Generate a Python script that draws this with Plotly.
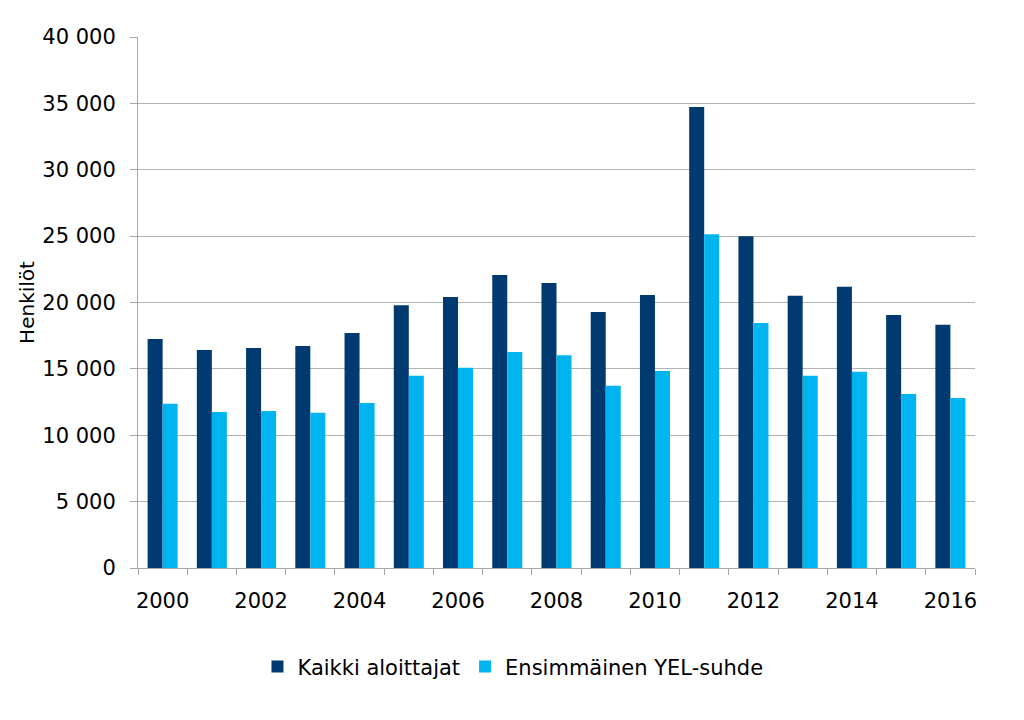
import plotly.graph_objects as go

years = list(range(2000, 2017))
kaikki = [17250, 16420, 16570, 16720, 17700, 19800, 20420, 22070, 21470, 19280,
          20560, 34730, 25000, 20500, 21180, 19060, 18320]
ensimmainen = [12380, 11760, 11830, 11700, 12430, 14480, 15080, 16280, 16030, 13720,
               14840, 25150, 18460, 14480, 14780, 13100, 12800]
series_names = ["Kaikki aloittajat", "Ensimmäinen YEL-suhde"]
y_ticks = list(range(0, 40001, 5000))
x_labels = list(range(2000, 2017, 2))

font = dict(family="DejaVu Sans, Verdana, sans-serif", size=21, color="#000000")

fig = go.Figure()
fig.add_trace(go.Bar(x=years, y=kaikki, name=series_names[0], marker_color="#003A70",
                     marker_line_width=0))
fig.add_trace(go.Bar(x=years, y=ensimmainen, name=series_names[1], marker_color="#00B4F0",
                     marker_line_width=0))

fig.update_layout(
    width=1024, height=720,
    margin=dict(l=138, r=49, t=37, b=152),
    paper_bgcolor="white", plot_bgcolor="white",
    font=font,
    barmode="group", bargap=0.39, bargroupgap=0,
    separators=". ",
    legend=dict(orientation="h", x=0.448, xanchor="center", y=-0.186, yanchor="middle",
                font=dict(size=21), itemwidth=30, tracegroupgap=0),
    xaxis=dict(
        range=[1999.5, 2016.5], tickmode="array", tickvals=x_labels,
        ticktext=[str(v) for v in x_labels], ticks="", showgrid=False,
        showline=True, linecolor="#a6a6a6", linewidth=1,
        tickfont=dict(size=21), ticklabelstandoff=14,
        minor=dict(tickmode="array", tickvals=[y - 0.5 for y in years] + [2016.5],
                   ticks="outside", ticklen=6, tickcolor="#a6a6a6", showgrid=False),
    ),
    yaxis=dict(
        range=[0, 40000], tickmode="array", tickvals=y_ticks, tickformat=",d",
        showgrid=True, gridcolor="#b3b3b3", gridwidth=1,
        showline=True, linecolor="#a6a6a6", linewidth=1,
        ticks="outside", ticklen=7, tickcolor="#a6a6a6",
        ticklabelstandoff=10, zeroline=False,
        title=dict(text="Henkilöt", font=dict(size=20), standoff=2),
        tickfont=dict(size=21),
    ),
)

fig.write_html("out.html")
